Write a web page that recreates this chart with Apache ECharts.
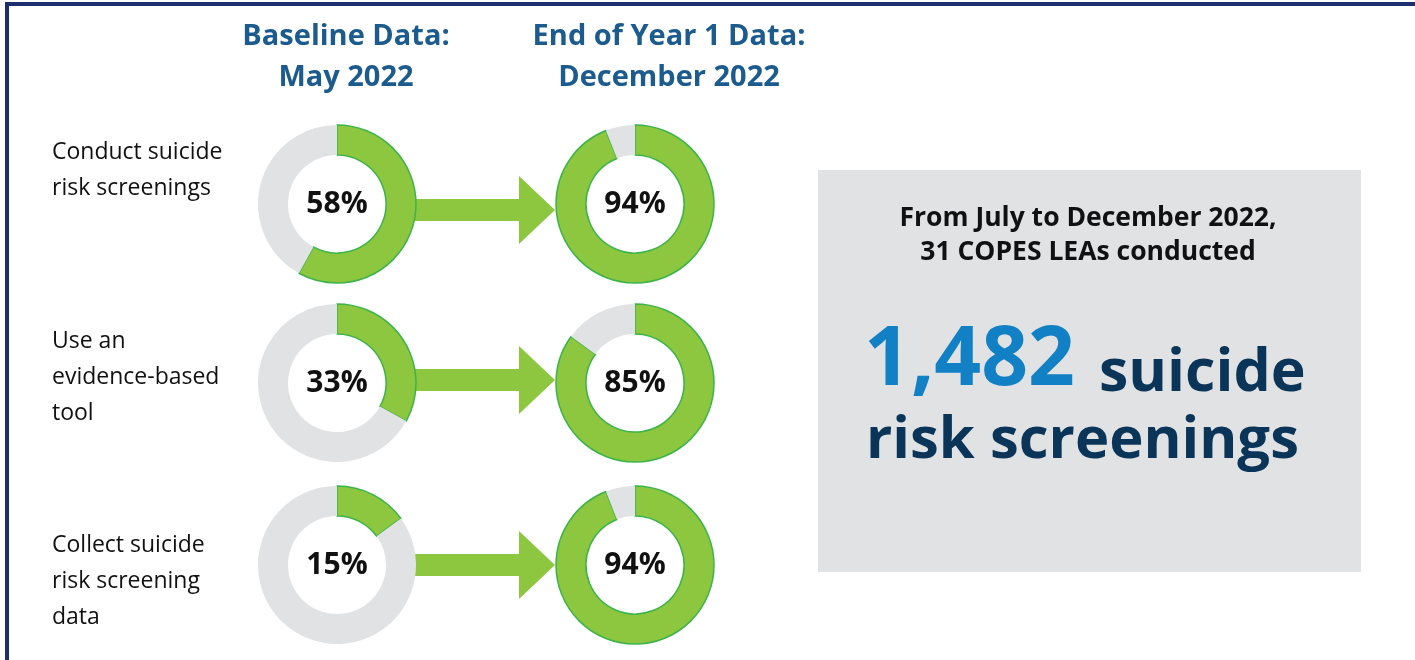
<!DOCTYPE html>
<html>
<head>
<meta charset="utf-8">
<script src="https://cdn.jsdelivr.net/npm/echarts@6/dist/echarts.min.js"></script>
<style>
html,body{margin:0;padding:0;background:#fff;}
#chart{width:1415px;height:660px;}
</style>
</head>
<body>
<div id="chart"></div>
<script>
const categories = ["Conduct suicide\nrisk screenings", "Use an\nevidence-based\ntool", "Collect suicide\nrisk screening\ndata"];
const baselineValues = [58, 33, 15];
const year1Values = [94, 85, 94];
const columnHeaders = ["Baseline Data:\nMay 2022", "End of Year 1 Data:\nDecember 2022"];
const calloutIntro = "From July to December 2022,\n31 COPES LEAs conducted";
const calloutNumber = "1,482";
const calloutUnit1 = "suicide";
const calloutUnit2 = "risk screenings";

const GREEN = '#8dc63f', GREEN_EDGE = '#3cb44a', GRAY = '#e1e2e4';
const FONT = '"Open Sans", "Noto Sans", sans-serif';
const rowY = [204, 383, 565];
const labelTop = [152, 341, 545];
const colX = [337, 635];
const R = [49, 79];

const chart = echarts.init(document.getElementById('chart'));
const series = [];
function donut(cx, cy, v) {
  return {
    type: 'pie', center: [cx, cy], radius: R, startAngle: 90, clockwise: true,
    silent: true, animation: false,
    label: {show: false}, labelLine: {show: false},
    data: [
      {value: v, itemStyle: {color: GREEN, borderColor: GREEN_EDGE, borderWidth: 1.5},
       label: {show: true, position: 'center', formatter: v + '%', fontFamily: FONT, fontWeight: 'bold', fontSize: 30, color: '#111'}},
      {value: 100 - v, itemStyle: {color: GRAY, borderWidth: 0}}
    ]
  };
}
baselineValues.forEach((v, i) => series.push(donut(colX[0], rowY[i], v)));
year1Values.forEach((v, i) => series.push(donut(colX[1], rowY[i], v)));

const graphic = [];
// frame
graphic.push({type: 'rect', shape: {x: 7, y: 4, width: 1420, height: 700}, style: {fill: 'none', stroke: '#1b2f6e', lineWidth: 4}, silent: true});
// headers
columnHeaders.forEach((h, i) => {
  graphic.push({type: 'text', x: [346, 669][i], y: 57, style: {text: h, fontFamily: FONT, fontWeight: 'bold', fontSize: 29, lineHeight: 41, fill: '#1c5b8e', align: 'center', verticalAlign: 'middle'}});
});
// row labels
categories.forEach((c, i) => {
  graphic.push({type: 'text', x: 52, y: labelTop[i] - 18, style: {text: c, fontFamily: FONT, fontSize: 23, lineHeight: 36, fill: '#111', align: 'left', verticalAlign: 'top'}});
});
// arrows
rowY.forEach((y, i) => {
  const cy = y + [6, -3, 0][i];
  graphic.push({type: 'polygon', shape: {points: [[414, cy - 11], [519, cy - 11], [519, cy - 34], [555, cy], [519, cy + 34], [519, cy + 11], [414, cy + 11]]}, style: {fill: GREEN}, z: -1});
});
// callout box
graphic.push({type: 'rect', shape: {x: 818, y: 170, width: 543, height: 402}, style: {fill: GRAY}});
graphic.push({type: 'text', x: 1088, y: 235, style: {text: calloutIntro, fontFamily: FONT, fontWeight: 'bold', fontSize: 26.5, lineHeight: 34, fill: '#111', align: 'center', verticalAlign: 'middle'}});
graphic.push({type: 'text', x: 864, y: 362, style: {text: calloutNumber, fontFamily: FONT, fontWeight: 'bold', fontSize: 82, fill: '#1280c4', align: 'left', verticalAlign: 'middle'}});
graphic.push({type: 'text', x: 1099, y: 374, style: {text: calloutUnit1, fontFamily: FONT, fontWeight: 'bold', fontSize: 59, fill: '#0b3558', align: 'left', verticalAlign: 'middle'}});
graphic.push({type: 'text', x: 866, y: 441, style: {text: calloutUnit2, fontFamily: FONT, fontWeight: 'bold', fontSize: 58, fill: '#0b3558', align: 'left', verticalAlign: 'middle'}});

chart.setOption({backgroundColor: '#fff', animation: false, series, graphic});
</script>
</body>
</html>
